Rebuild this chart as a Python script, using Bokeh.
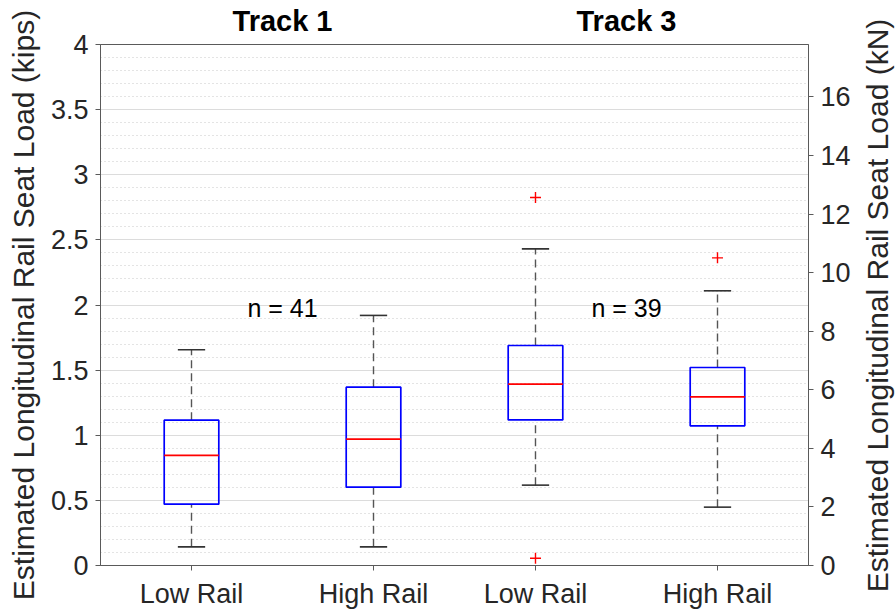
import math
from bokeh.plotting import figure
from bokeh.layouts import row
from bokeh.models import (Range1d, LinearAxis, SingleIntervalTicker, FixedTicker,
                          Label, ColumnDataSource)
from bokeh.core.properties import value
from bokeh.embed import file_html
from bokeh.resources import INLINE

# ---- data (kips) ----
tracks = ["Track 1", "Track 1", "Track 3", "Track 3"]
rails = ["Low Rail", "High Rail", "Low Rail", "High Rail"]
lower_whisker = [0.143, 0.143, 0.617, 0.448]
q1 = [0.471, 0.601, 1.118, 1.072]
median = [0.845, 0.970, 1.392, 1.295]
q3 = [1.116, 1.369, 1.689, 1.520]
upper_whisker = [1.656, 1.920, 2.431, 2.109]
outlier_group = [2, 2, 3]
outlier_value = [2.825, 0.056, 2.362]
n_labels = ["n = 41", "n = 39"]
n_label_y = 1.98
track_titles = ["Track 1", "Track 3"]
left_label = "Estimated Longitudinal Rail Seat Load (kips)"
right_label = "Estimated Longitudinal Rail Seat Load (kN)"
KIPS_TO_KN = 4.44822

# ---- layout constants ----
x_pos = [1.0, 2.0, 2.89, 3.89]
box_half = 0.15
cap_half = 0.075
FONT = "Liberation Sans"
TXT = "#262626"
AX = "#5a5a5a"

p = figure(width=856, height=615, output_backend="svg", toolbar_location=None,
           x_range=Range1d(0.5, 4.39), y_range=Range1d(0, 4),
           min_border_left=100, min_border_right=48, min_border_top=44,
           min_border_bottom=50)
p.frame_align = False
p.background_fill_color = "white"
p.border_fill_color = "white"
p.outline_line_color = AX
p.outline_line_width = 1

p.extra_y_ranges = {"kn": Range1d(0, 4 * KIPS_TO_KN)}

# grid
p.xgrid.grid_line_color = None
p.ygrid.grid_line_color = "#dcdcdc"
p.ygrid.grid_line_width = 1.2
p.ygrid.minor_grid_line_color = "#c8c8c8"
p.ygrid.minor_grid_line_dash = "1 3"
p.ygrid.minor_grid_line_width = 1

def style_axis(ax, label_size="27px"):
    ax.minor_tick_line_color = None
    ax.major_tick_in = 0
    ax.major_tick_out = 5
    ax.major_label_text_font = FONT
    ax.major_label_text_font_size = label_size
    ax.major_label_text_color = TXT
    ax.major_label_standoff = 7
    ax.axis_line_color = AX
    ax.major_tick_line_color = AX
    ax.axis_label_text_font = FONT
    ax.axis_label_text_font_style = "normal"
    ax.axis_label_text_font_size = "30px"
    ax.axis_label_text_color = TXT

# left axis
ya = p.yaxis[0]
ya.ticker = SingleIntervalTicker(interval=0.5, num_minor_ticks=5)
style_axis(ya)
ya.axis_label = left_label
ya.axis_label_standoff = 8

# right axis (its title is drawn in a side strip so that it reads upward)
ra = LinearAxis(y_range_name="kn",
                ticker=SingleIntervalTicker(interval=2, num_minor_ticks=0))
style_axis(ra)
p.add_layout(ra, "right")

# bottom axis
xa = p.xaxis[0]
xa.ticker = FixedTicker(ticks=x_pos)
xa.major_label_overrides = {x: r for x, r in zip(x_pos, rails)}
style_axis(xa)
xa.major_label_standoff = 8

# top "axis" carrying the track titles
centers = [(x_pos[0] + x_pos[1]) / 2, (x_pos[2] + x_pos[3]) / 2]
ta = LinearAxis(ticker=FixedTicker(ticks=centers))
ta.major_label_overrides = {c: t for c, t in zip(centers, track_titles)}
ta.axis_line_color = None
ta.major_tick_line_color = None
ta.minor_tick_line_color = None
ta.major_tick_out = 0
ta.major_tick_in = 0
ta.major_label_standoff = 8
ta.major_label_text_font = FONT
ta.major_label_text_font_size = "29px"
ta.major_label_text_font_style = "bold"
ta.major_label_text_color = "black"
p.add_layout(ta, "above")

src = ColumnDataSource(dict(
    x=x_pos,
    x0=[x - box_half for x in x_pos], x1=[x + box_half for x in x_pos],
    c0=[x - cap_half for x in x_pos], c1=[x + cap_half for x in x_pos],
    lw=lower_whisker, q1=q1, med=median, q3=q3, uw=upper_whisker))

# whiskers (dashed)
p.segment(x0="x", y0="q3", x1="x", y1="uw", source=src, line_color="#555555",
          line_width=1.4, line_dash="8 5")
p.segment(x0="x", y0="lw", x1="x", y1="q1", source=src, line_color="#555555",
          line_width=1.4, line_dash="8 5")
# caps
p.segment(x0="c0", y0="uw", x1="c1", y1="uw", source=src, line_color="#333333",
          line_width=1.6)
p.segment(x0="c0", y0="lw", x1="c1", y1="lw", source=src, line_color="#333333",
          line_width=1.6)
# boxes
p.quad(left="x0", right="x1", bottom="q1", top="q3", source=src,
       fill_color=None, line_color="#0000ff", line_width=1.7)
# medians
p.segment(x0="x0", y0="med", x1="x1", y1="med", source=src, line_color="#ff0000",
          line_width=1.7)
# outliers
p.scatter(x=[x_pos[g] for g in outlier_group], y=outlier_value, marker="cross",
          size=11, line_color="#ff0000", line_width=1.4)

# n labels
for cx, t in zip(centers, n_labels):
    p.add_layout(Label(x=cx, y=n_label_y, text=t, text_align="center",
                       text_baseline="middle", text_font=FONT,
                       text_font_size="25px", text_color="black"))

# side strip carrying the right-hand axis title (reads bottom-to-top)
side = figure(width=40, height=615, output_backend="svg", toolbar_location=None,
              x_range=Range1d(0, 40), y_range=Range1d(0, 615),
              x_axis_type=None, y_axis_type=None,
              min_border_left=0, min_border_right=0, min_border_top=0,
              min_border_bottom=0)
side.frame_align = False
side.outline_line_color = None
side.xgrid.grid_line_color = None
side.ygrid.grid_line_color = None
side.background_fill_color = "white"
side.border_fill_color = "white"
side.text(x=[21], y=[310], text=[right_label], angle=math.pi / 2,
          text_align="center", text_baseline="middle",
          text_font=value(FONT), text_font_size="30px", text_color=TXT)

layout = row(p, side, spacing=0)
open("out.html", "w").write(file_html(layout, INLINE))
